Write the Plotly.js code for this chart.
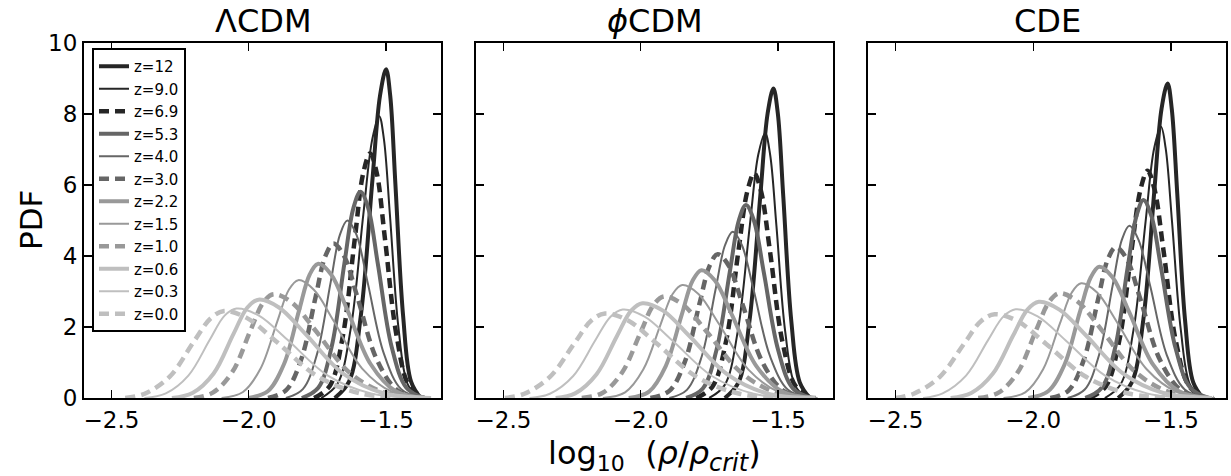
<!DOCTYPE html>
<html>
<head>
<meta charset="utf-8">
<script src="https://cdn.plot.ly/plotly-3.0.1.min.js"></script>
<style>html,body{margin:0;padding:0;background:#fff;}#chart{width:1231px;height:476px;}</style>
</head>
<body>
<div id="chart"></div>
<script>
// ---- data ----
const redshiftLabels = ["z=12","z=9.0","z=6.9","z=5.3","z=4.0","z=3.0","z=2.2","z=1.5","z=1.0","z=0.6","z=0.3","z=0.0"];
const panelTitles = ["ΛCDM", "<i>ϕ</i>CDM", "CDE"];
const xTickVals = [-2.5, -2.0, -1.5];
const xTickText = ["−2.5", "−2.0", "−1.5"];
const yTickVals = [0, 2, 4, 6, 8, 10];
const xAxisLabel = "log<sub><span style=\"font-size:22px\">10</span></sub>&nbsp;&nbsp;(<i>ρ</i>/<i>ρ</i><sub><span style=\"font-size:24px\"><i>crit</i></span></sub>)";
const yAxisLabel = "PDF";

// ΛCDM
const lcdmX = [
  [-1.687,-1.635,-1.592,-1.551,-1.522,-1.500,-1.485,-1.466,-1.438,-1.409,-1.374],
  [-1.736,-1.677,-1.628,-1.583,-1.550,-1.525,-1.508,-1.486,-1.455,-1.422,-1.382],
  [-1.762,-1.705,-1.658,-1.614,-1.583,-1.558,-1.534,-1.504,-1.461,-1.416,-1.361],
  [-1.807,-1.747,-1.698,-1.652,-1.619,-1.593,-1.565,-1.530,-1.480,-1.426,-1.362],
  [-1.865,-1.803,-1.751,-1.702,-1.668,-1.641,-1.608,-1.567,-1.508,-1.445,-1.369],
  [-1.930,-1.864,-1.809,-1.757,-1.721,-1.692,-1.653,-1.604,-1.534,-1.459,-1.369],
  [-2.002,-1.931,-1.872,-1.817,-1.778,-1.747,-1.700,-1.640,-1.556,-1.465,-1.356],
  [-2.099,-2.021,-1.957,-1.896,-1.854,-1.820,-1.763,-1.690,-1.587,-1.477,-1.344],
  [-2.200,-2.131,-2.060,-1.994,-1.947,-1.910,-1.843,-1.757,-1.635,-1.506,-1.349],
  [-2.280,-2.205,-2.128,-2.056,-2.005,-1.965,-1.890,-1.793,-1.657,-1.512,-1.336],
  [-2.380,-2.302,-2.220,-2.142,-2.088,-2.045,-1.963,-1.859,-1.712,-1.555,-1.365],
  [-2.450,-2.379,-2.287,-2.200,-2.138,-2.090,-2.006,-1.900,-1.749,-1.588,-1.393]
];
const lcdmY = [
  [0,0.46,2.32,6.02,8.52,9.26,8.52,6.02,2.32,0.46,0],
  [0,0.40,1.99,5.16,7.30,7.94,7.30,5.16,1.99,0.40,0],
  [0,0.34,1.72,4.48,6.34,6.89,6.34,4.48,1.72,0.34,0],
  [0,0.29,1.45,3.78,5.35,5.81,5.35,3.78,1.45,0.29,0],
  [0,0.25,1.25,3.25,4.60,5.00,4.60,3.25,1.25,0.25,0],
  [0,0.22,1.09,2.83,4.00,4.35,4.00,2.83,1.09,0.22,0],
  [0,0.19,0.95,2.46,3.48,3.78,3.48,2.46,0.95,0.19,0],
  [0,0.17,0.83,2.16,3.05,3.32,3.05,2.16,0.83,0.17,0],
  [0,0.15,0.73,1.90,2.69,2.92,2.69,1.90,0.73,0.15,0],
  [0,0.14,0.69,1.80,2.55,2.77,2.55,1.80,0.69,0.14,0],
  [0,0.13,0.63,1.64,2.32,2.52,2.32,1.64,0.63,0.13,0],
  [0,0.12,0.61,1.59,2.25,2.45,2.25,1.59,0.61,0.12,0]
];

// ϕCDM
const phicdmX = [
  [-1.694,-1.644,-1.604,-1.565,-1.538,-1.517,-1.501,-1.481,-1.452,-1.421,-1.384],
  [-1.751,-1.694,-1.647,-1.603,-1.572,-1.547,-1.529,-1.506,-1.474,-1.439,-1.397],
  [-1.798,-1.739,-1.690,-1.645,-1.612,-1.587,-1.562,-1.529,-1.484,-1.435,-1.376],
  [-1.835,-1.774,-1.724,-1.676,-1.643,-1.617,-1.588,-1.552,-1.500,-1.446,-1.379],
  [-1.896,-1.832,-1.778,-1.728,-1.693,-1.665,-1.632,-1.589,-1.529,-1.464,-1.386],
  [-1.965,-1.896,-1.840,-1.787,-1.749,-1.720,-1.680,-1.629,-1.557,-1.480,-1.387],
  [-2.044,-1.970,-1.909,-1.851,-1.811,-1.779,-1.730,-1.668,-1.579,-1.485,-1.371],
  [-2.138,-2.057,-1.991,-1.928,-1.884,-1.849,-1.790,-1.714,-1.608,-1.494,-1.356],
  [-2.215,-2.140,-2.068,-2.000,-1.953,-1.915,-1.847,-1.759,-1.635,-1.503,-1.344],
  [-2.310,-2.239,-2.161,-2.087,-2.035,-1.994,-1.919,-1.822,-1.686,-1.541,-1.365],
  [-2.405,-2.331,-2.246,-2.166,-2.110,-2.066,-1.986,-1.885,-1.741,-1.589,-1.403],
  [-2.495,-2.424,-2.330,-2.241,-2.179,-2.130,-2.048,-1.944,-1.797,-1.640,-1.450]
];
const phicdmY = [
  [0,0.44,2.18,5.67,8.02,8.72,8.02,5.67,2.18,0.44,0],
  [0,0.37,1.87,4.85,6.86,7.46,6.86,4.85,1.87,0.37,0],
  [0,0.32,1.58,4.11,5.82,6.33,5.82,4.11,1.58,0.32,0],
  [0,0.27,1.36,3.54,5.00,5.44,5.00,3.54,1.36,0.27,0],
  [0,0.23,1.17,3.04,4.31,4.68,4.31,3.04,1.17,0.23,0],
  [0,0.20,1.01,2.63,3.73,4.05,3.73,2.63,1.01,0.20,0],
  [0,0.18,0.90,2.34,3.31,3.60,3.31,2.34,0.90,0.18,0],
  [0,0.16,0.80,2.07,2.93,3.18,2.93,2.07,0.80,0.16,0],
  [0,0.14,0.72,1.86,2.63,2.86,2.63,1.86,0.72,0.14,0],
  [0,0.13,0.67,1.74,2.46,2.67,2.46,1.74,0.67,0.13,0],
  [0,0.12,0.62,1.62,2.29,2.49,2.29,1.62,0.62,0.12,0],
  [0,0.12,0.60,1.55,2.19,2.38,2.19,1.55,0.60,0.12,0]
];

// CDE
const cdeX = [
  [-1.692,-1.642,-1.600,-1.561,-1.534,-1.512,-1.497,-1.477,-1.449,-1.419,-1.383],
  [-1.740,-1.683,-1.636,-1.592,-1.561,-1.536,-1.519,-1.496,-1.464,-1.431,-1.390],
  [-1.796,-1.737,-1.688,-1.643,-1.610,-1.585,-1.560,-1.527,-1.482,-1.433,-1.374],
  [-1.811,-1.752,-1.703,-1.658,-1.625,-1.600,-1.571,-1.535,-1.483,-1.429,-1.362],
  [-1.875,-1.813,-1.761,-1.712,-1.678,-1.651,-1.618,-1.575,-1.515,-1.450,-1.372],
  [-1.938,-1.872,-1.817,-1.765,-1.729,-1.700,-1.660,-1.610,-1.539,-1.462,-1.370],
  [-2.018,-1.946,-1.887,-1.831,-1.791,-1.760,-1.712,-1.651,-1.564,-1.471,-1.359],
  [-2.108,-2.029,-1.964,-1.903,-1.860,-1.826,-1.768,-1.693,-1.588,-1.476,-1.340],
  [-2.200,-2.126,-2.055,-1.989,-1.942,-1.905,-1.838,-1.752,-1.630,-1.501,-1.344],
  [-2.300,-2.225,-2.147,-2.073,-2.021,-1.980,-1.905,-1.808,-1.672,-1.527,-1.351],
  [-2.400,-2.329,-2.244,-2.164,-2.108,-2.064,-1.984,-1.883,-1.739,-1.587,-1.401],
  [-2.500,-2.434,-2.340,-2.251,-2.189,-2.140,-2.058,-1.954,-1.807,-1.650,-1.460]
];
const cdeY = [
  [0,0.44,2.22,5.76,8.15,8.86,8.15,5.76,2.22,0.44,0],
  [0,0.38,1.91,4.97,7.03,7.64,7.03,4.97,1.91,0.38,0],
  [0,0.32,1.60,4.16,5.89,6.40,5.89,4.16,1.60,0.32,0],
  [0,0.28,1.40,3.63,5.13,5.58,5.13,3.63,1.40,0.28,0],
  [0,0.24,1.21,3.15,4.46,4.85,4.46,3.15,1.21,0.24,0],
  [0,0.21,1.06,2.76,3.91,4.25,3.91,2.76,1.06,0.21,0],
  [0,0.19,0.93,2.41,3.40,3.70,3.40,2.41,0.93,0.19,0],
  [0,0.16,0.81,2.10,2.97,3.23,2.97,2.10,0.81,0.16,0],
  [0,0.15,0.74,1.92,2.71,2.95,2.71,1.92,0.74,0.15,0],
  [0,0.14,0.68,1.76,2.49,2.71,2.49,1.76,0.68,0.14,0],
  [0,0.13,0.63,1.63,2.30,2.50,2.30,1.63,0.63,0.13,0],
  [0,0.12,0.59,1.53,2.17,2.36,2.17,1.53,0.59,0.12,0]
];

// ---- styles ----
const shadeColors = ["#262626", "#666666", "#999999", "#bfbfbf"];
const styleKinds = [ {w: 4, dash: "solid"}, {w: 2, dash: "solid"}, {w: 4.5, dash: "10px,6px"} ];

const panels = [
  {xs: lcdmX, ys: lcdmY, xa: "x", ya: "y"},
  {xs: phicdmX, ys: phicdmY, xa: "x2", ya: "y2"},
  {xs: cdeX, ys: cdeY, xa: "x3", ya: "y3"}
];

const FONT = "DejaVu Sans, Liberation Sans, sans-serif";
const traces = [];
panels.forEach((p, pi) => {
  redshiftLabels.forEach((lab, i) => {
    const st = styleKinds[i % 3];
    traces.push({
      type: "scatter", mode: "lines",
      x: p.xs[i], y: p.ys[i],
      xaxis: p.xa, yaxis: p.ya,
      name: lab, legendgroup: lab,
      showlegend: pi === 0,
      line: {color: shadeColors[Math.floor(i / 3)], width: st.w, dash: st.dash, shape: "spline", smoothing: 1},
      hoverinfo: "skip"
    });
  });
});

const W = 1231, H = 476;
const yBottom = (H - 398) / H, yTop = (H - 43) / H;
const domains = [[84 / W, 441 / W], [476 / W, 833 / W], [868 / W, 1226 / W]];

function xAxis(dom) {
  return {
    domain: dom, range: [-2.6, -1.3], tickvals: xTickVals, ticktext: xTickText,
    ticks: "inside", ticklen: 8, tickwidth: 1.3, tickcolor: "#000",
    showline: true, linewidth: 2, linecolor: "#000", mirror: "ticks",
    showgrid: false, zeroline: false, fixedrange: true,
    tickfont: {family: FONT, size: 23, color: "#000"}
  };
}
function yAxis(anchor, labels) {
  return {
    domain: [yBottom, yTop], range: [0, 10], tickvals: yTickVals, anchor: anchor,
    ticks: "inside", ticklen: 8, tickwidth: 1.3, tickcolor: "#000",
    showline: true, linewidth: 2, linecolor: "#000", mirror: "ticks",
    showgrid: false, zeroline: false, fixedrange: true, showticklabels: labels,
    tickfont: {family: FONT, size: 23, color: "#000"}
  };
}

const annotations = panelTitles.map((t, k) => ({
  text: t, xref: "paper", yref: "paper",
  x: (domains[k][0] + domains[k][1]) / 2, y: (H - 21) / H,
  xanchor: "center", yanchor: "middle", showarrow: false,
  font: {family: FONT, size: 32, color: "#000"}
}));
annotations.push({
  text: xAxisLabel, xref: "paper", yref: "paper",
  x: 654 / W, y: (H - 455) / H,
  xanchor: "center", yanchor: "middle", showarrow: false,
  font: {family: FONT, size: 32, color: "#000"}
});
annotations.push({
  text: yAxisLabel, xref: "paper", yref: "paper",
  x: 31 / W, y: (H - 220) / H, textangle: -90,
  xanchor: "center", yanchor: "middle", showarrow: false,
  font: {family: FONT, size: 31, color: "#000"}
});

const layout = {
  width: W, height: H,
  margin: {l: 0, r: 0, t: 0, b: 0},
  paper_bgcolor: "#fff", plot_bgcolor: "#fff",
  showlegend: true,
  legend: {
    x: 92 / W, y: (H - 48) / H, xanchor: "left", yanchor: "top",
    bgcolor: "#fff", bordercolor: "#000", borderwidth: 2,
    font: {family: FONT, size: 15, color: "#000"},
    tracegroupgap: 0, itemwidth: 30
  },
  xaxis: xAxis(domains[0]), xaxis2: xAxis(domains[1]), xaxis3: xAxis(domains[2]),
  yaxis: yAxis("x", true), yaxis2: yAxis("x2", false), yaxis3: yAxis("x3", false),
  annotations: annotations
};
layout.xaxis.anchor = "y"; layout.xaxis2.anchor = "y2"; layout.xaxis3.anchor = "y3";

Plotly.newPlot("chart", traces, layout, {staticPlot: true, displayModeBar: false});
</script>
</body>
</html>
